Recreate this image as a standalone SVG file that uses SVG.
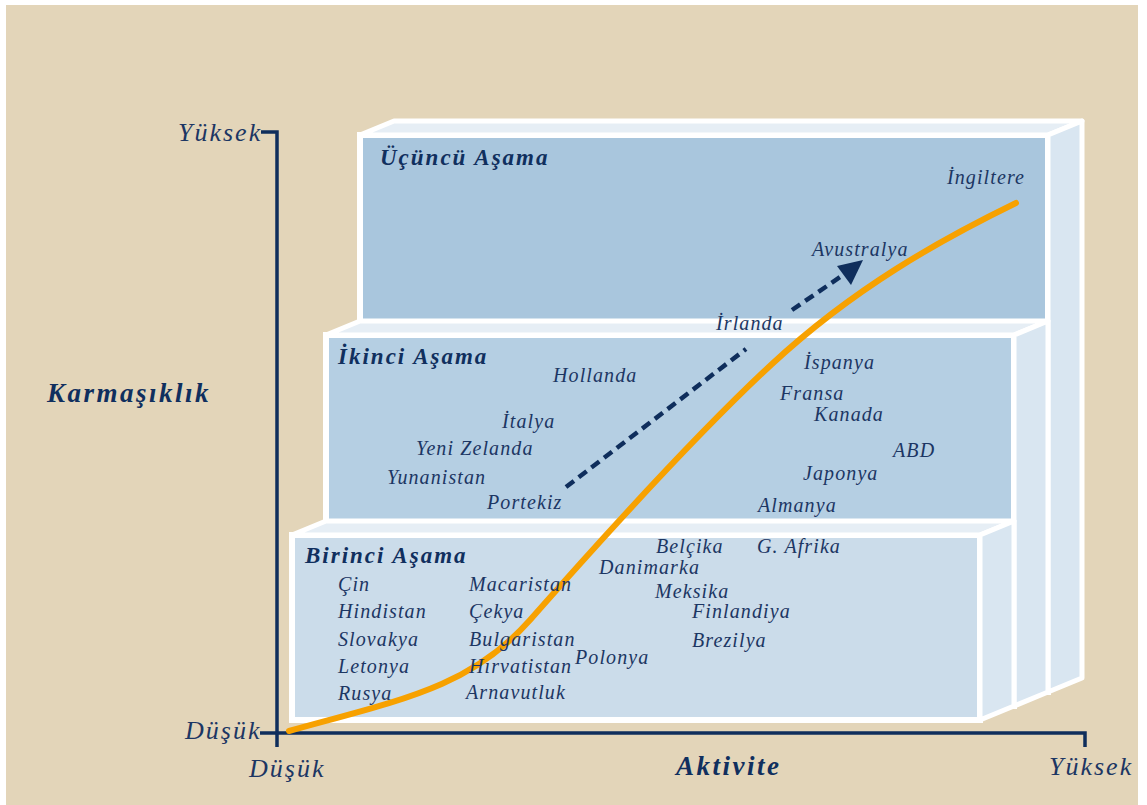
<svg xmlns="http://www.w3.org/2000/svg" width="1147" height="805" viewBox="0 0 1147 805">
  <defs>
    <style>
      .front { stroke: #ffffff; stroke-width: 6; stroke-linejoin: miter; }
      .top { fill: #e6eef5; stroke: #ffffff; stroke-width: 5; stroke-linejoin: round; }
      .side { fill: #d9e6f1; stroke: #ffffff; stroke-width: 5; stroke-linejoin: round; }
      .axis { stroke: #0f2e5c; stroke-width: 3.5; fill: none; }
      .lbl { font-family: "Liberation Serif", "Times New Roman", serif; font-style: italic; fill: #1c3663; font-size: 20px; letter-spacing: 1.1px; }
      .stage { font-family: "Liberation Serif", "Times New Roman", serif; font-style: italic; font-weight: bold; fill: #102f5e; font-size: 23px; letter-spacing: 2px; }
      .axlbl { font-family: "Liberation Serif", "Times New Roman", serif; font-style: italic; fill: #1c3663; font-size: 26px; letter-spacing: 2px; }
      .axtitle { font-family: "Liberation Serif", "Times New Roman", serif; font-style: italic; font-weight: bold; fill: #102f5e; font-size: 27px; letter-spacing: 2.5px; }
    </style>
  </defs>

  <!-- page background -->
  <rect x="0" y="0" width="1147" height="805" fill="#ffffff"/>
  <rect x="6" y="5" width="1132" height="800" fill="#e3d5b9"/>

  <!-- stage 3 block (back) -->
  <g id="stage3">
    <rect class="front" x="360" y="135" width="688" height="557" fill="#a9c6dd"/>
    <polygon class="top" points="360,135 394,121 1082,121 1048,135"/>
    <polygon class="side" points="1048,135 1082,121 1082,678 1048,692"/>
    <text class="stage" x="380" y="165">Üçüncü Aşama</text>
  </g>

  <!-- stage 2 block (middle) -->
  <g id="stage2">
    <rect class="front" x="326" y="335" width="688" height="371" fill="#b5cfe3"/>
    <polygon class="top" points="326,335 360,321 1048,321 1014,335"/>
    <polygon class="side" points="1014,335 1048,321 1048,692 1014,706"/>
    <text class="stage" x="338" y="364">İkinci Aşama</text>
  </g>

  <!-- stage 1 block (front) -->
  <g id="stage1">
    <rect class="front" x="292" y="535" width="688" height="185" fill="#cbdcea"/>
    <polygon class="top" points="292,535 326,521 1014,521 980,535"/>
    <polygon class="side" points="980,535 1014,521 1014,706 980,720"/>
    <text class="stage" x="305" y="563">Birinci Aşama</text>
  </g>

  <!-- axes -->
  <g id="axes">
    <polyline class="axis" points="261,132 277,132 277,747"/>
    <polyline class="axis" points="260,733 1085,733 1085,747"/>
    <text class="axlbl" x="178" y="141">Yüksek</text>
    <text class="axlbl" x="185" y="739">Düşük</text>
    <text class="axlbl" x="249" y="777">Düşük</text>
    <text class="axlbl" x="1049" y="775">Yüksek</text>
    <text class="axtitle" x="47" y="402">Karmaşıklık</text>
    <text class="axtitle" x="676" y="775">Aktivite</text>
  </g>

  <!-- connectors -->
  <g id="connectors">
    <path d="M289,731 C400,700 470,688 530,620 S690,440 772,364 S940,240 1016,203" fill="none" stroke="#f7a100" stroke-width="6" stroke-linecap="round"/>
    <line x1="566" y1="487" x2="746" y2="349" stroke="#0f2e5c" stroke-width="4.5" stroke-dasharray="10 6"/>
    <line x1="792" y1="310" x2="846" y2="273" stroke="#0f2e5c" stroke-width="4.5" stroke-dasharray="10 6"/>
    <polygon points="863,260 837,266 851,285" fill="#0f2e5c"/>
  </g>

  <!-- country labels -->
  <g id="countries">
    <text class="lbl" x="947" y="184">İngiltere</text>
    <text class="lbl" x="812" y="256">Avustralya</text>
    <text class="lbl" x="716" y="330">İrlanda</text>
    <text class="lbl" x="553" y="382">Hollanda</text>
    <text class="lbl" x="804" y="369">İspanya</text>
    <text class="lbl" x="780" y="400">Fransa</text>
    <text class="lbl" x="814" y="421">Kanada</text>
    <text class="lbl" x="502" y="428">İtalya</text>
    <text class="lbl" x="416" y="455">Yeni Zelanda</text>
    <text class="lbl" x="893" y="457">ABD</text>
    <text class="lbl" x="803" y="480">Japonya</text>
    <text class="lbl" x="387" y="484">Yunanistan</text>
    <text class="lbl" x="487" y="509">Portekiz</text>
    <text class="lbl" x="758" y="512">Almanya</text>
    <text class="lbl" x="656" y="553">Belçika</text>
    <text class="lbl" x="757" y="553">G. Afrika</text>
    <text class="lbl" x="599" y="574">Danimarka</text>
    <text class="lbl" x="338" y="591">Çin</text>
    <text class="lbl" x="469" y="591">Macaristan</text>
    <text class="lbl" x="655" y="598">Meksika</text>
    <text class="lbl" x="338" y="618">Hindistan</text>
    <text class="lbl" x="469" y="618">Çekya</text>
    <text class="lbl" x="692" y="618">Finlandiya</text>
    <text class="lbl" x="338" y="646">Slovakya</text>
    <text class="lbl" x="469" y="646">Bulgaristan</text>
    <text class="lbl" x="692" y="647">Brezilya</text>
    <text class="lbl" x="575" y="664">Polonya</text>
    <text class="lbl" x="338" y="673">Letonya</text>
    <text class="lbl" x="469" y="673">Hırvatistan</text>
    <text class="lbl" x="338" y="700">Rusya</text>
    <text class="lbl" x="466" y="699">Arnavutluk</text>
  </g>
</svg>
